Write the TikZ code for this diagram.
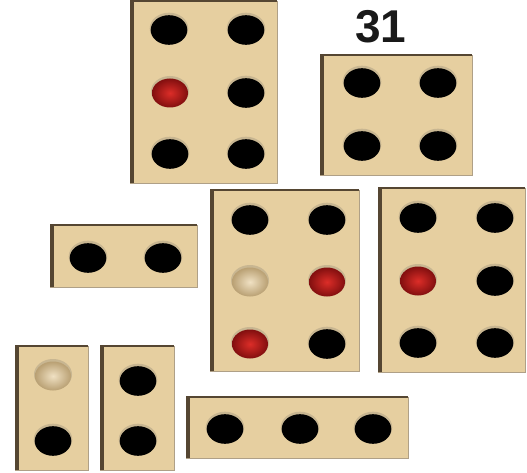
\documentclass[tikz,border=0pt]{standalone}
\usepackage{fontspec}
\setmainfont{Liberation Sans}
\definecolor{tanc}{RGB}{230,207,160}
\definecolor{darkedge}{RGB}{85,70,50}
\definecolor{lightedge}{RGB}{175,160,135}
\definecolor{rimc}{RGB}{200,182,145}
\definecolor{redin}{RGB}{220,45,40}
\definecolor{redout}{RGB}{130,15,15}
\definecolor{begin}{RGB}{240,225,195}
\definecolor{begout}{RGB}{185,160,115}
\newcommand\tblock[4]{%
  \fill[tanc] (#1,#2) rectangle (#3,#4);
  \draw[lightedge,line width=0.8pt] (#1,#4) -- (#3,#4) -- (#3,#2);
  \draw[darkedge,line width=1.2pt] (#1,#2) -- (#3,#2);
  \fill[darkedge] (#1,#2) rectangle (#1+4,#4);
}
\newcommand\thole[2]{%
  \fill[rimc] (#1,#2-1.5) ellipse (19.3 and 15.8);
  \fill[black] (#1,#2) ellipse (18.3 and 14.8);
}
\newcommand\tred[2]{%
  \fill[rimc] (#1,#2-1.5) ellipse (19 and 15.5);
  \shade[inner color=redin,outer color=redout] (#1,#2) ellipse (18 and 14.5);
}
\newcommand\tbeige[2]{%
  \fill[rimc] (#1,#2-1.5) ellipse (19 and 15.5);
  \shade[inner color=begin,outer color=begout] (#1,#2) ellipse (18 and 14.5);
}
\begin{document}
\begin{tikzpicture}[x=1pt,y=-1pt]
\useasboundingbox (0,0) rectangle (527,473);
% block A
\tblock{130}{1}{277}{183}
\thole{169}{30}\thole{246}{30}
\tred{170}{93}\thole{246}{93}
\thole{170}{154}\thole{246}{154}
% label
\node[font=\bfseries\fontsize{46}{48}\selectfont,text=black!90,inner sep=0pt] (lbl) at (381,26.5) {31};
% block B
\tblock{320}{55}{472}{175}
\thole{362}{83}\thole{438}{83}
\thole{362}{146}\thole{438}{146}
% block C
\tblock{210}{190}{359}{371}
\thole{250}{220}\thole{327}{220}
\tbeige{250}{282}\tred{327}{282}
\tred{250}{344}\thole{327}{344}
% block D
\tblock{378}{188}{525}{372}
\thole{418}{218}\thole{495}{218}
\tred{418}{281}\thole{495}{281}
\thole{418}{343}\thole{495}{343}
% block E
\tblock{50}{225}{197}{287}
\thole{88}{258}\thole{163}{258}
% block F
\tblock{15}{346}{88}{470}
\tbeige{53}{376}\thole{53}{441}
% block G
\tblock{100}{346}{174}{470}
\thole{138}{381}\thole{138}{441}
% block H
\tblock{186}{397}{408}{458}
\thole{225}{429}\thole{300}{429}\thole{373}{429}
\end{tikzpicture}
\end{document}
